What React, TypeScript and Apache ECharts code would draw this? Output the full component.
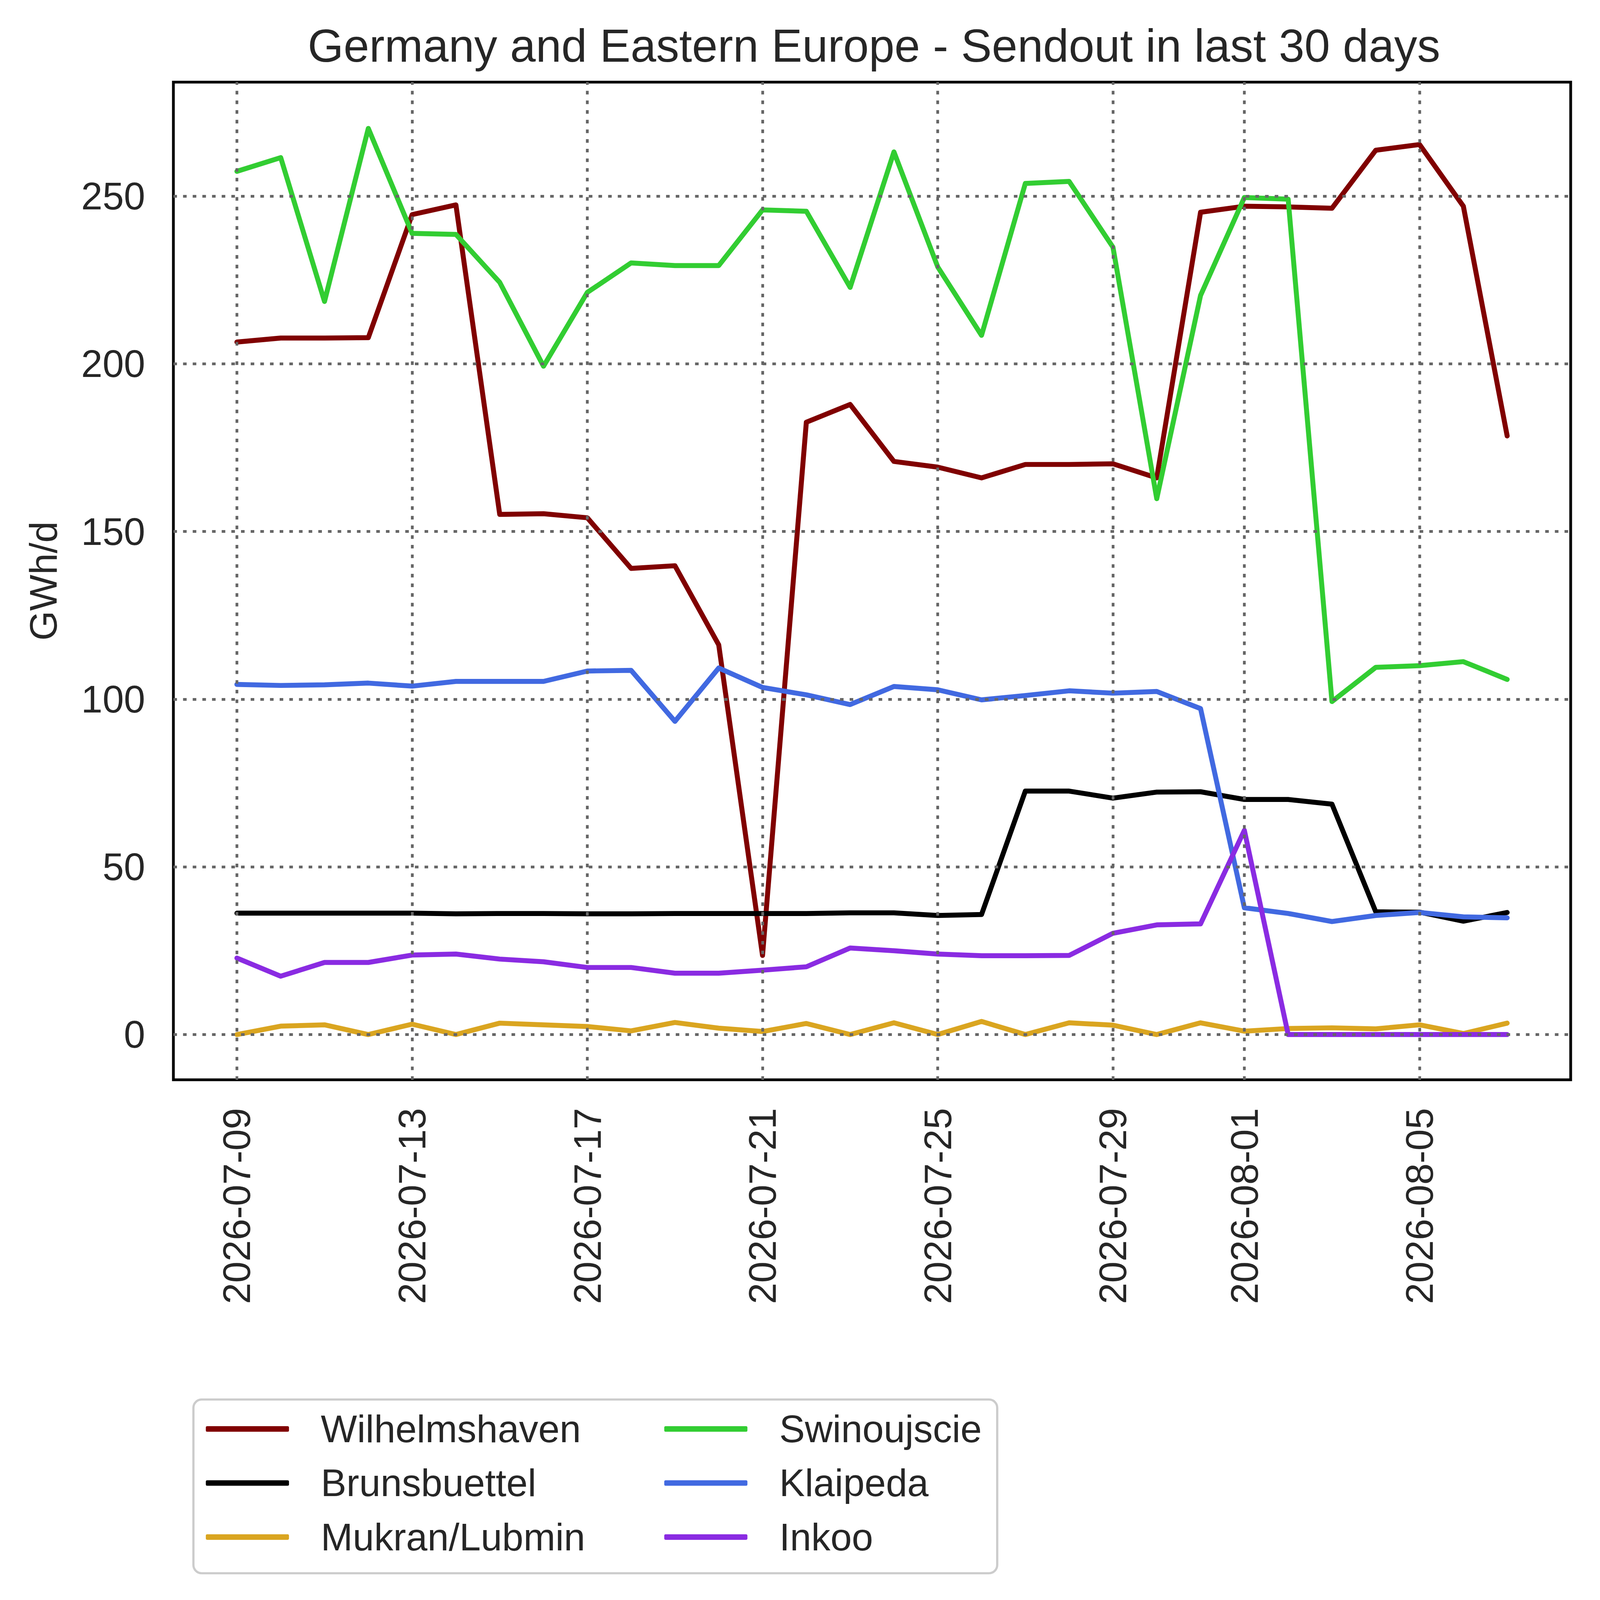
import React, { useEffect, useRef, useState } from "react";
import * as echarts from "echarts";

const dates = [
  "2026-07-09", "2026-07-10", "2026-07-11", "2026-07-12", "2026-07-13", "2026-07-14",
  "2026-07-15", "2026-07-16", "2026-07-17", "2026-07-18", "2026-07-19", "2026-07-20",
  "2026-07-21", "2026-07-22", "2026-07-23", "2026-07-24", "2026-07-25", "2026-07-26",
  "2026-07-27", "2026-07-28", "2026-07-29", "2026-07-30", "2026-07-31", "2026-08-01",
  "2026-08-02", "2026-08-03", "2026-08-04", "2026-08-05", "2026-08-06", "2026-08-07",
];
const tickDates = [
  "2026-07-09", "2026-07-13", "2026-07-17", "2026-07-21",
  "2026-07-25", "2026-07-29", "2026-08-01", "2026-08-05",
];
const yTicks = [0, 50, 100, 150, 200, 250];

const wilhelmshaven = [
  206.5, 207.7, 207.7, 207.8, 244.5, 247.4, 155.1, 155.3, 154.1, 139.0,
  139.8, 116.2, 23.6, 182.6, 187.9, 170.9, 169.2, 166.0, 170.0, 170.0,
  170.2, 166.0, 245.2, 247.0, 246.8, 246.4, 263.7, 265.4, 247.0, 178.5,
];
const brunsbuettel = [
  36.2, 36.2, 36.2, 36.2, 36.2, 36.0, 36.1, 36.1, 36.0, 36.0,
  36.1, 36.1, 36.1, 36.1, 36.3, 36.3, 35.5, 35.8, 72.6, 72.6,
  70.5, 72.3, 72.4, 70.1, 70.1, 68.7, 36.6, 36.5, 33.8, 36.4,
];
const mukranLubmin = [
  0, 2.5, 2.9, 0, 3.1, 0, 3.4, 2.9, 2.4, 1.1,
  3.6, 1.9, 0.9, 3.3, 0, 3.5, 0, 3.9, 0, 3.5,
  2.8, 0, 3.5, 1.0, 1.8, 2.0, 1.7, 2.9, 0.3, 3.4,
];
const swinoujscie = [
  257.4, 261.5, 218.6, 270.2, 238.9, 238.6, 224.3, 199.3, 221.3, 230.1,
  229.3, 229.3, 245.9, 245.5, 222.8, 263.2, 228.9, 208.5, 253.8, 254.4,
  234.8, 159.8, 220.4, 249.6, 249.1, 99.3, 109.5, 110.0, 111.2, 105.9,
];
const klaipeda = [
  104.4, 104.1, 104.3, 104.8, 103.9, 105.3, 105.3, 105.3, 108.4, 108.6,
  93.4, 109.3, 103.5, 101.3, 98.4, 103.8, 102.8, 99.8, 101.1, 102.5,
  101.8, 102.3, 97.2, 37.8, 36.1, 33.7, 35.5, 36.4, 35.1, 34.8,
];
const inkoo = [
  22.8, 17.4, 21.5, 21.5, 23.7, 24.0, 22.5, 21.7, 20.0, 20.0,
  18.3, 18.3, 19.2, 20.2, 25.8, 25.0, 24.0, 23.5, 23.5, 23.6,
  30.2, 32.7, 33.0, 60.9, 0, 0, 0, 0, 0, 0,
];

const seriesNames = ["Wilhelmshaven", "Brunsbuettel", "Mukran/Lubmin", "Swinoujscie", "Klaipeda", "Inkoo"];
const seriesValues = [wilhelmshaven, brunsbuettel, mukranLubmin, swinoujscie, klaipeda, inkoo];
const seriesColors = ["#800000", "#000000", "#DAA520", "#32CD32", "#4169E1", "#8A2BE2"];

const FONT = "'Liberation Sans', Arial, Helvetica, sans-serif";
const TEXT = "#262626";
const REF_W = 5675;
const REF_H = 5921;

export default function App() {
  const ref = useRef<HTMLDivElement>(null);
  const [size] = useState(() => ({
    w: Math.max(300, window.innerWidth || REF_W),
    h: Math.max(300, window.innerHeight || REF_H),
  }));

  useEffect(() => {
    if (!ref.current) return;
    const chart = echarts.init(ref.current, null, { renderer: "svg" });

    const sx = size.w / REF_W;
    const sy = size.h / REF_H;
    const f = Math.sqrt(sx * sy);
    const X = (v: number) => v * sx;
    const Y = (v: number) => v * sy;

    const n = dates.length;
    const pad = (n - 1) * 0.05;
    const xTickIdx = tickDates.map((d) => dates.indexOf(d));

    const lineSeries = seriesNames.map((name, k) => ({
      name,
      type: "line",
      z: 3,
      data: seriesValues[k].map((v, i) => [i, v]),
      showSymbol: false,
      symbol: "none",
      color: seriesColors[k],
      lineStyle: { color: seriesColors[k], width: 18 * f, join: "round", cap: "round" },
      emphasis: { disabled: true },
    }));

    const gridSeries = {
      name: "__grid",
      type: "line",
      z: 1,
      silent: true,
      data: dates.map((_, i) => [i, null]),
      showSymbol: false,
      symbol: "none",
      lineStyle: { width: 0, opacity: 0 },
      markLine: {
        silent: true,
        animation: false,
        symbol: ["none", "none"],
        label: { show: false },
        emphasis: { disabled: true },
        lineStyle: { color: "#666666", width: 10 * f, type: [13 * f, 22 * f] },
        data: [
          ...xTickIdx.map((i) => ({ xAxis: i })),
          ...yTicks.map((v) => ({ yAxis: v })),
        ],
      },
    };

    const legendCommon = {
      orient: "vertical",
      padding: 0,
      itemWidth: X(295),
      itemHeight: 20 * f,
      itemGap: Y(200) - 160 * f,
      icon: "roundRect",
      selectedMode: false,
      textStyle: {
        fontSize: 139 * f,
        fontFamily: FONT,
        color: TEXT,
        lineHeight: 160 * f,
        padding: [0, 0, 0, X(106)],
      },
    };

    const option = {
      animation: false,
      backgroundColor: "#ffffff",
      title: {
        text: "Germany and Eastern Europe - Sendout in last 30 days",
        left: X(3093),
        textAlign: "center",
        top: Y(222) - 142 * f,
        textStyle: { fontSize: 167 * f, fontWeight: "normal", fontFamily: FONT, color: TEXT },
      },
      grid: {
        left: X(615),
        top: Y(304),
        width: X(5571) - X(615),
        height: Y(3996) - Y(304),
        show: true,
        borderColor: "#000000",
        borderWidth: 10 * f,
        backgroundColor: "transparent",
        containLabel: false,
      },
      xAxis: {
        type: "value",
        min: -pad,
        max: n - 1 + pad,
        axisLine: { show: false },
        axisTick: { show: false },
        splitLine: { show: false },
        axisLabel: {
          customValues: xTickIdx,
          formatter: (v: number) => dates[Math.round(v)] ?? "",
          rotate: 90,
          margin: Y(104),
          fontSize: 139 * f,
          fontFamily: FONT,
          color: TEXT,
        },
      },
      yAxis: {
        type: "value",
        min: -13.5,
        max: 284,
        axisLine: { show: false },
        axisTick: { show: false },
        splitLine: { show: false },
        axisLabel: {
          customValues: yTicks,
          formatter: (v: number) => String(v),
          margin: X(100),
          fontSize: 139 * f,
          fontFamily: FONT,
          color: TEXT,
        },
        name: "GWh/d",
        nameLocation: "middle",
        nameRotate: 90,
        nameGap: X(615) - X(222),
        nameTextStyle: { fontSize: 139 * f, fontFamily: FONT, color: TEXT },
      },
      legend: [
        {
          ...legendCommon,
          left: X(730),
          top: Y(5288) - 80 * f,
          data: [seriesNames[0], seriesNames[1], seriesNames[2]],
        },
        {
          ...legendCommon,
          left: X(2356),
          top: Y(5288) - 80 * f,
          data: [seriesNames[3], seriesNames[4], seriesNames[5]],
        },
      ],
      graphic: [
        {
          type: "rect",
          z: 0,
          silent: true,
          shape: { x: X(686), y: Y(5179), width: X(3537) - X(686), height: Y(5822) - Y(5179), r: 30 * f },
          style: { fill: "#ffffff", stroke: "#cccccc", lineWidth: 8 * f },
        },
      ],
      series: [gridSeries, ...lineSeries],
    };

    chart.setOption(option as any);
    return () => chart.dispose();
  }, [size]);

  return (
    <div
      ref={ref}
      style={{ position: "fixed", left: 0, top: 0, width: size.w, height: size.h, background: "#ffffff" }}
    />
  );
}
